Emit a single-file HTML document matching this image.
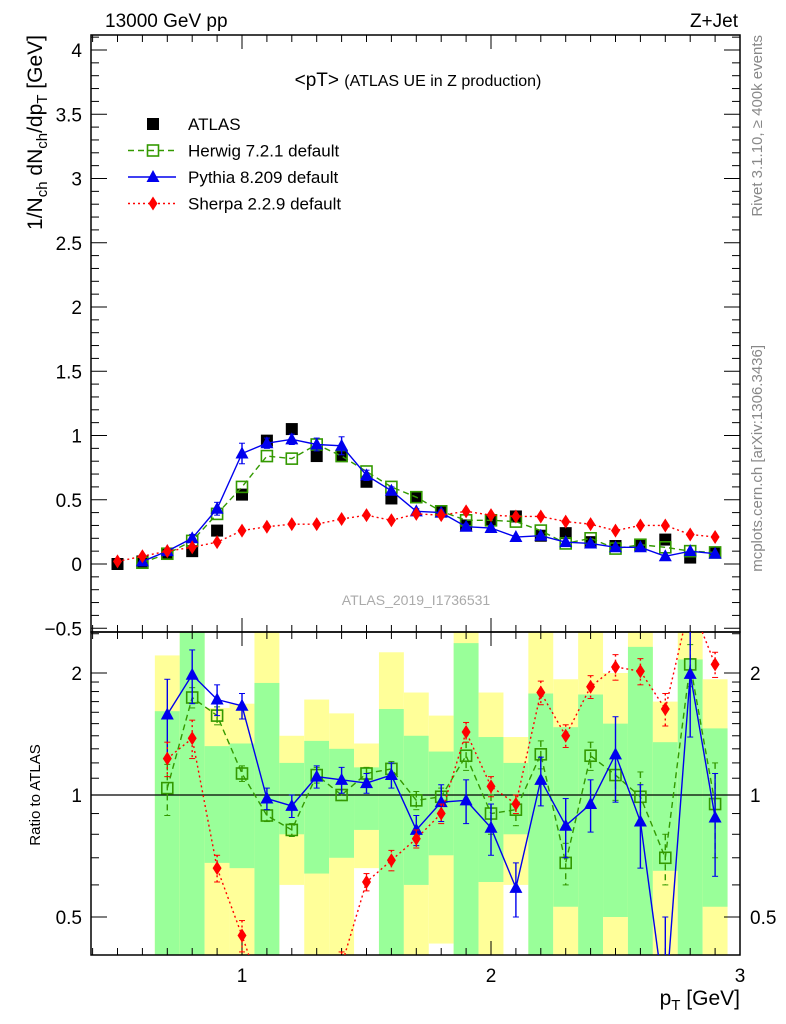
<!DOCTYPE html>
<html><head><meta charset="utf-8"><style>
html,body{margin:0;padding:0;background:#fff;overflow:hidden;width:786px;height:1024px;}
svg{display:block;font-family:"Liberation Sans",sans-serif;}
</style></head><body>
<svg id="c" width="786" height="1024" viewBox="0 0 786 1024" xmlns="http://www.w3.org/2000/svg"></svg>
<script>
const binCenters=[0.5,0.6,0.7,0.8,0.9,1.0,1.1,1.2,1.3,1.4,1.5,1.6,1.7,1.8,1.9,2.0,2.1,2.2,2.3,2.4,2.5,2.6,2.7,2.8,2.9];
const atlasVals=[0,0.02,0.08,0.1,0.26,0.54,0.96,1.05,0.84,0.84,0.64,0.51,0.52,0.41,0.3,0.34,0.37,0.22,0.24,0.17,0.14,0.15,0.19,0.05,0.09];
const herwigVals=[null,0.01,0.08,0.18,0.39,0.6,0.84,0.82,0.93,0.84,0.72,0.6,0.52,0.41,0.34,0.34,0.33,0.26,0.16,0.2,0.12,0.15,0.13,0.1,0.09];
const pythiaVals=[null,0.02,0.1,0.2,0.43,0.86,0.94,0.97,0.93,0.92,0.69,0.57,0.41,0.4,0.29,0.28,0.21,0.22,0.17,0.16,0.13,0.13,0.06,0.1,0.08];
const pythiaErr=[0,0.01,0.02,0.03,0.05,0.08,0.04,0.04,0.05,0.07,0.04,0.03,0.02,0.02,0.02,0.02,0.01,0.01,0.01,0.01,0.01,0.01,0.01,0.01,0.01];
const sherpaVals=[0.02,0.06,0.1,0.13,0.17,0.26,0.29,0.31,0.31,0.35,0.38,0.34,0.39,0.38,0.41,0.38,0.37,0.37,0.33,0.31,0.26,0.3,0.3,0.23,0.21];
const ratioCenters=[0.7,0.8,0.9,1.0,1.1,1.2,1.3,1.4,1.5,1.6,1.7,1.8,1.9,2.0,2.1,2.2,2.3,2.4,2.5,2.6,2.7,2.8,2.9];
const herwigRatio=[1.04,1.74,1.57,1.13,0.89,0.82,1.12,1.0,1.13,1.16,0.97,0.99,1.25,0.9,0.92,1.26,0.68,1.25,1.12,0.99,0.7,2.1,0.95];
const herwigRatioErr=[0.15,0.1,0.08,0.05,0.03,0.03,0.05,0.03,0.04,0.05,0.05,0.05,0.1,0.1,0.08,0.1,0.08,0.1,0.15,0.15,0.1,0.25,0.25];
const pythiaRatio=[1.58,1.98,1.72,1.66,0.98,0.94,1.11,1.09,1.07,1.12,0.82,0.96,0.97,0.83,0.59,1.09,0.84,0.95,1.26,0.86,0.3,1.99,0.88];
const pythiaRatioErr=[0.35,0.3,0.15,0.12,0.06,0.06,0.07,0.08,0.06,0.08,0.07,0.1,0.12,0.12,0.09,0.15,0.14,0.14,0.3,0.2,0.2,0.6,0.25];
const sherpaRatio=[1.23,1.38,0.66,0.45,0.3,0.25,0.3,0.38,0.61,0.69,0.78,0.9,1.43,1.05,0.95,1.79,1.4,1.85,2.07,2.02,1.63,3.0,2.1];
const sherpaRatioErr=[0.12,0.15,0.05,0.04,0.03,0.03,0.03,0.03,0.03,0.04,0.04,0.05,0.08,0.06,0.05,0.12,0.09,0.12,0.15,0.15,0.15,0.3,0.15];
const bandGreenLo=[0.3,0.3,0.68,0.66,0.3,0.80,0.64,0.70,0.82,0.3,0.60,0.71,0.3,0.61,0.80,0.3,0.53,0.3,0.5,0.3,0.65,0.3,0.53];
const bandGreenHi=[1.61,3,1.32,1.34,1.89,1.2,1.36,1.30,1.17,1.63,1.40,1.28,2.37,1.39,1.2,1.78,1.47,1.77,1.5,2.32,1.35,2.16,1.46];
const bandYellowLo=[0.3,0.3,0.3,0.3,0.3,0.6,0.3,0.3,0.66,0.3,0.3,0.43,0.3,0.3,0.6,0.3,0.3,0.3,0.3,0.3,0.3,0.3,0.3];
const bandYellowHi=[2.21,3,1.64,1.68,3,1.40,1.72,1.59,1.34,2.25,1.79,1.57,3,1.79,1.39,3,1.93,3,2.0,3,1.70,3,1.93];
const mainYTicks=["0","0.5","1","1.5","2","2.5","3","3.5","4"];
const xTickLabels=["1","2","3"];

const NS="http://www.w3.org/2000/svg";
const svg=document.getElementById('c');
const L=91,R=740,T1=35,B1=632,T2=632,B2=955;
const X=v=>242+(v-1)*249;
const Y=v=>564-v*128.5;
const YR=v=>795-122*Math.log2(v);
const clampY=(y,lo,hi)=>Math.max(lo,Math.min(hi,y));
function el(tag,attrs,parent){const e=document.createElementNS(NS,tag);for(const k in attrs)e.setAttribute(k,attrs[k]);(parent||svg).appendChild(e);return e;}
function txt(s,x,y,size,anchor,fill,parent){const t=el('text',{x:x,y:y,'font-size':size,'text-anchor':anchor||'start',fill:fill||'#000'},parent);t.textContent=s;return t;}

const defs=el('defs',{});
const cp=el('clipPath',{id:'rc'},defs);el('rect',{x:L,y:T2,width:R-L,height:B2-T2},cp);
const cp1=el('clipPath',{id:'mc'},defs);el('rect',{x:L,y:T1,width:R-L,height:B1-T1},cp1);

const bands=el('g',{'clip-path':'url(#rc)'});


ratioCenters.forEach((c,i)=>{
  const x0=X(c-0.05),x1=X(c+0.05);
  const yh=clampY(YR(bandYellowHi[i]),T2,B2),yl=clampY(YR(bandYellowLo[i]),T2,B2);
  const gh=clampY(YR(bandGreenHi[i]),T2,B2),gl=clampY(YR(bandGreenLo[i]),T2,B2);
  const y=el('rect',{x:x0,y:yh,width:x1-x0,height:yl-yh,fill:'#ffff99'},bands);
  
  
  const g=el('rect',{x:x0,y:gh,width:x1-x0,height:gl-gh,fill:'#99ff99'},bands);
  
  
});
el('line',{x1:L,x2:R,y1:YR(1),y2:YR(1),stroke:'#000','stroke-width':1.2});

el('rect',{x:L,y:T1,width:R-L,height:B1-T1,fill:'none',stroke:'#000','stroke-width':1.5});
el('rect',{x:L,y:T2,width:R-L,height:B2-T2,fill:'none',stroke:'#000','stroke-width':1.5});

for(let k=4;k<=30;k++){const v=k/10;const x=X(v);const maj=(k%10===0);const len=maj?14:7;
  [[T1,1],[B1,-1],[T2,1],[B2,-1]].forEach(([y,d])=>el('line',{x1:x,x2:x,y1:y,y2:y+d*len,stroke:'#000','stroke-width':1}));}
xTickLabels.forEach(s=>{const t=txt(s,X(+s),982,19,'middle');});
for(let k=-5;k<=41;k++){const v=k/10;const y=Y(v);if(y<T1||y>B1)continue;const maj=(k%5===0);const len=maj?16:8;
  el('line',{x1:L,x2:L+len,y1:y,y2:y,stroke:'#000'});el('line',{x1:R,x2:R-len,y1:y,y2:y,stroke:'#000'});}
mainYTicks.forEach(s=>{const t=txt(s,82,Y(+s)+7,19,'end');});
txt('\u22120.5',82,Y(-0.5)+7,19,'end');
[0.4,0.5,0.6,0.7,0.8,0.9,1,1.1,1.2,1.3,1.4,1.5,1.6,1.7,1.8,1.9,2,2.5].forEach(v=>{const y=YR(v);if(y<T2||y>B2)return;const maj=(v===0.5||v===1||v===2);const len=maj?16:8;
  el('line',{x1:L,x2:L+len,y1:y,y2:y,stroke:'#000'});el('line',{x1:R,x2:R-len,y1:y,y2:y,stroke:'#000'});});
[['2',2],['1',1],['0.5',0.5]].forEach(([s,v])=>{txt(s,82,YR(v)+7,19,'end');txt(s,750,YR(v)+7,19,'start');});

// clip segment to y range [lo,hi]; returns null or [x1,y1,x2,y2]
function clipSeg(x1,y1,x2,y2,lo,hi){
  let t0=0,t1=1;const dy=y2-y1;
  if(dy===0){if(y1<lo||y1>hi)return null;return [x1,y1,x2,y2];}
  let ta=(lo-y1)/dy,tb=(hi-y1)/dy;if(ta>tb){const t=ta;ta=tb;tb=t;}
  t0=Math.max(t0,ta);t1=Math.min(t1,tb);if(t0>t1)return null;
  return [x1+(x2-x1)*t0,y1+dy*t0,x1+(x2-x1)*t1,y1+dy*t1];
}
function series(name,xs,vals,err,color,dash,marker,yf,clip,lo,hi){
  const g=el('g',{'clip-path':clip});
  
  
  const pts=[];xs.forEach((x,i)=>{if(vals[i]!=null)pts.push([X(x),yf(vals[i])]);});
  let d='';let last=null;
  for(let k=0;k<pts.length-1;k++){
    const s=clipSeg(pts[k][0],pts[k][1],pts[k+1][0],pts[k+1][1],lo,hi);
    if(!s){last=null;continue;}
    if(!last||Math.abs(last[0]-s[0])>0.01||Math.abs(last[1]-s[1])>0.01)d+='M'+s[0]+','+s[1];
    d+='L'+s[2]+','+s[3];last=[s[2],s[3]];
  }
  el('path',{d:d,fill:'none',stroke:color,'stroke-width':1.4,'stroke-dasharray':dash},g);
  xs.forEach((x,i)=>{if(vals[i]==null)return;const cx=X(x),cy=yf(vals[i]);
    if(err&&err[i]>0){const a=clampY(yf(vals[i]+err[i]),lo,hi),b=clampY(yf(Math.max(vals[i]-err[i],0.01)),lo,hi);
      if(a<b){
      el('line',{x1:cx,x2:cx,y1:a,y2:b,stroke:color,'stroke-width':1.4,'stroke-dasharray':dash},g);
      if(a>lo)el('line',{x1:cx-3,x2:cx+3,y1:a,y2:a,stroke:color},g);
      if(b<hi)el('line',{x1:cx-3,x2:cx+3,y1:b,y2:b,stroke:color},g);}}
    if(cy>=lo-6&&cy<=hi+6)drawMarker(marker,cx,cy,color,g);});
}
function drawMarker(m,cx,cy,color,g){
  if(m==='sq')el('rect',{x:cx-6,y:cy-6,width:12,height:12,fill:'#000'},g);
  else if(m==='osq')el('rect',{x:cx-5.5,y:cy-5.5,width:11,height:11,fill:'none',stroke:color,'stroke-width':1.6},g);
  else if(m==='tri')el('polygon',{points:`${cx},${cy-7} ${cx-6.5},${cy+5} ${cx+6.5},${cy+5}`,fill:color},g);
  else if(m==='dia')el('polygon',{points:`${cx},${cy-7} ${cx-4.5},${cy} ${cx},${cy+7} ${cx+4.5},${cy}`,fill:color},g);
}
const gA=el('g',{'clip-path':'url(#mc)'});
binCenters.forEach((x,i)=>drawMarker('sq',X(x),Y(atlasVals[i]),'#000',gA));
series('herwig-main',binCenters,herwigVals,null,'#339900','6,4','osq',Y,'url(#mc)',T1,B1);
series('pythia-main',binCenters,pythiaVals,pythiaErr,'#0000ee','','tri',Y,'url(#mc)',T1,B1);
series('sherpa-main',binCenters,sherpaVals,null,'#ff0000','2,3','dia',Y,'url(#mc)',T1,B1);
series('herwig-ratio',ratioCenters,herwigRatio,herwigRatioErr,'#339900','6,4','osq',YR,'url(#rc)',T2,B2);
series('pythia-ratio',ratioCenters,pythiaRatio,pythiaRatioErr,'#0000ee','','tri',YR,'url(#rc)',T2,B2);
series('sherpa-ratio',ratioCenters,sherpaRatio,sherpaRatioErr,'#ff0000','2,3','dia',YR,'url(#rc)',T2,B2);

txt('13000 GeV pp',105,27,19);
txt('Z+Jet',738,27,19,'end');
const ti=txt('',418,86,19,'middle');
ti.innerHTML='&lt;pT&gt; <tspan font-size="16">(ATLAS UE in Z production)</tspan>';
txt('ATLAS_2019_I1736531',416,605,14,'middle','#aaa');
const r1=txt('Rivet 3.1.10, \u2265 400k events',0,0,15,'end','#888');r1.setAttribute('transform','translate(762,35) rotate(-90)');
const r2=txt('mcplots.cern.ch [arXiv:1306.3436]',0,0,15,'end','#888');r2.setAttribute('transform','translate(762,345) rotate(-90)');
const yt=txt('',0,0,21,'end');yt.setAttribute('transform','translate(42,35) rotate(-90)');
yt.innerHTML='1/N<tspan font-size="15" dy="5">ch</tspan><tspan dy="-5"> dN</tspan><tspan font-size="15" dy="5">ch</tspan><tspan dy="-5">/dp</tspan><tspan font-size="15" dy="5">T</tspan><tspan dy="-5"> [GeV]</tspan>';
const yt2=txt('Ratio to ATLAS',0,0,15,'middle');yt2.setAttribute('transform','translate(40,795) rotate(-90)');
const xt=txt('',740,1005,21,'end');
xt.innerHTML='p<tspan font-size="15" dy="5">T</tspan><tspan dy="-5"> [GeV]</tspan>';

const leg=el('g',{});
const entries=[['ATLAS','#000','','sq',false],['Herwig 7.2.1 default','#339900','6,4','osq',true],['Pythia 8.209 default','#0000ee','','tri',true],['Sherpa 2.2.9 default','#ff0000','2,3','dia',true]];
entries.forEach((e,i)=>{const y=124+i*26.5;const g=el('g',{},leg);
  
  
  if(e[4])el('line',{x1:128,x2:176,y1:y,y2:y,stroke:e[1],'stroke-width':1.4,'stroke-dasharray':e[2]},g);
  drawMarker(e[3],153,y,e[1],g);txt(e[0],188,y+6,17,'start','#000',g);});
</script>
</body></html>
